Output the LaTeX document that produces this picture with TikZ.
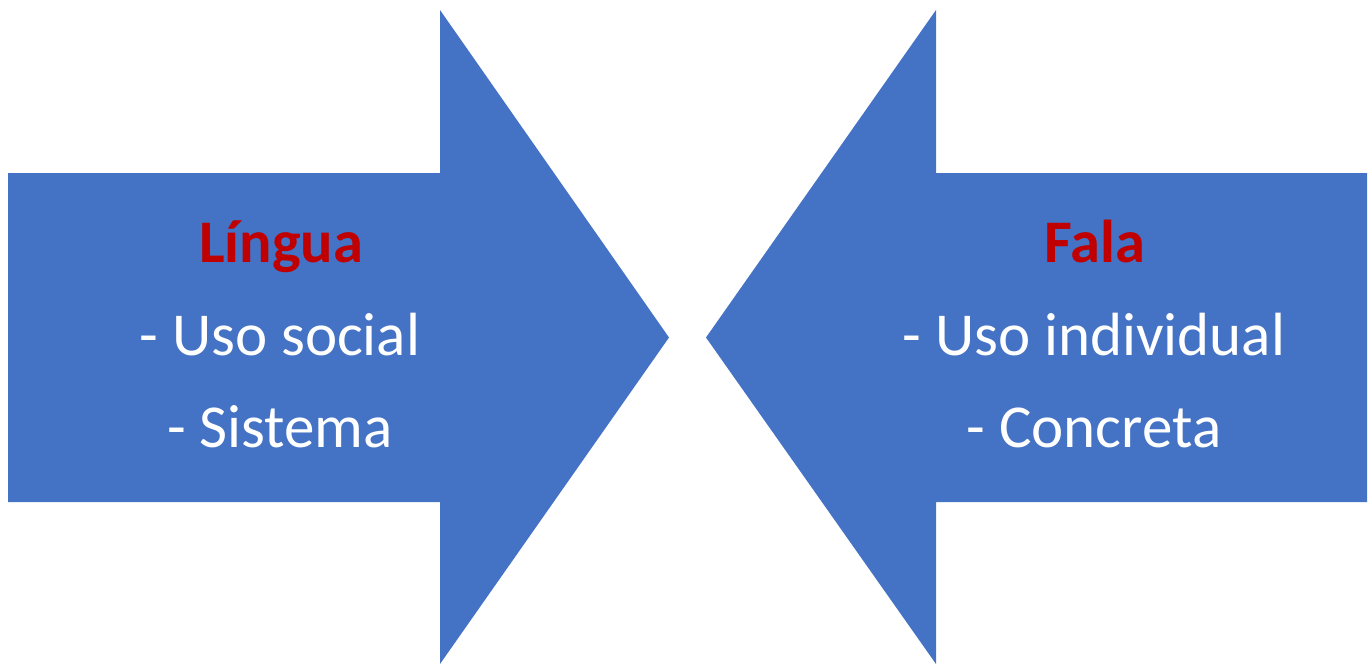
\documentclass[tikz,border=0pt]{standalone}
\usepackage{fontspec}
\setmainfont{Carlito}
\definecolor{arrowblue}{HTML}{4472C4}
\definecolor{titlered}{HTML}{C00000}
\begin{document}
\begin{tikzpicture}[x=1pt,y=-1pt,
  arrowshape/.style={fill=arrowblue,draw=none},
  titletext/.style={anchor=base,text=titlered,font=\fontsize{60.5}{72}\selectfont\bfseries,inner sep=0pt},
  itemtext/.style={anchor=base,text=white,font=\fontsize{61}{72}\selectfont,inner sep=0pt}]
\useasboundingbox (0,0) rectangle (1368,664);
% left arrow
\fill[arrowshape] (8,173) -- (440,173) -- (440,10) -- (669,337.5) -- (440,664) -- (440,502) -- (8,502) -- cycle;
% right arrow
\fill[arrowshape] (1367,173) -- (936,173) -- (936,10) -- (706,337.5) -- (936,664) -- (936,502) -- (1367,502) -- cycle;
\node[titletext] (lingua) at (281,262) {Língua};
\node[itemtext] (usosocial) at (280,355) {- Uso social};
\node[itemtext] (sistema) at (280,447) {- Sistema};
\node[titletext] (fala) at (1095,262) {Fala};
\node[itemtext] (usoindiv) at (1094,355) {- Uso individual};
\node[itemtext] (concreta) at (1094,447) {- Concreta};
\end{tikzpicture}
\end{document}
